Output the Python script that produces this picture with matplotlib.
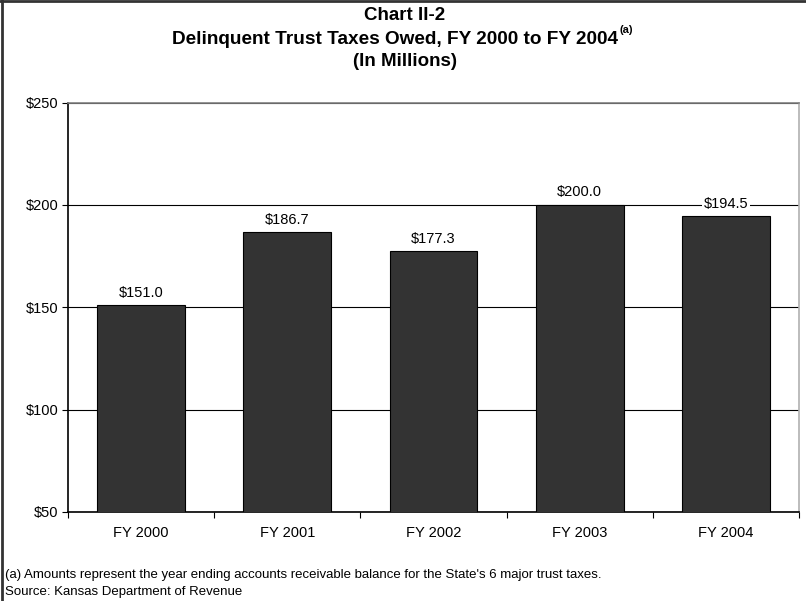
import matplotlib.pyplot as plt
import numpy as np
from matplotlib.lines import Line2D

plt.rcParams['font.family'] = ['Liberation Sans', 'DejaVu Sans']

# Delinquent trust taxes by fiscal year, in millions
years = ['FY 2000', 'FY 2001', 'FY 2002', 'FY 2003', 'FY 2004']
owed = [151.0, 186.7, 177.3, 200.0, 194.5]
y_ticks = [50, 100, 150, 200, 250]

fig = plt.figure(figsize=(8.06, 6.01), dpi=100)
ax = fig.add_axes([68 / 806, 89 / 601, 731 / 806, 409.5 / 601])

x = np.arange(len(years))
bars = ax.bar(x, owed, width=0.6, color='#333333', edgecolor='black',
              linewidth=0.8, zorder=3)

for b, v in zip(bars, owed):
    ax.annotate(f'${v:.1f}', (b.get_x() + b.get_width() / 2, v),
                xytext=(0, 4), textcoords='offset points', ha='center',
                va='bottom', fontsize=10.5, zorder=5,
                bbox=dict(boxstyle='square,pad=0.1', fc='white', ec='none'))

ax.set_xlim(-0.5, len(years) - 0.5)
ax.set_ylim(50, 250)
ax.set_yticks(y_ticks)
ax.set_yticklabels([f'${t}' for t in y_ticks], fontsize=10.5)
ax.yaxis.grid(True, color='black', linewidth=0.8, zorder=0)
ax.tick_params(axis='y', length=4, width=0.8, pad=3)

# category labels at centers, tick marks between categories
ax.set_xticks(x)
ax.set_xticklabels(years, fontsize=10.5)
ax.tick_params(axis='x', which='major', length=0, pad=10)
ax.set_xticks(np.arange(-0.5, len(years)), minor=True)
ax.tick_params(axis='x', which='minor', length=4, width=0.8)

ax.spines['left'].set_color('black')
ax.spines['bottom'].set_color('black')
ax.spines['top'].set_color('#808080')
ax.spines['right'].set_color('#b0b0b0')
for s in ax.spines.values():
    s.set_linewidth(1.2)

fig.text(0.502, 1 - 16 / 601, 'Chart II-2', ha='center', va='center',
         fontsize=13.5, fontweight='bold')
sub = fig.text(395 / 806, 1 - 39 / 601,
               'Delinquent Trust Taxes Owed, FY 2000 to FY 2004',
               ha='center', va='center', fontsize=13.7, fontweight='bold')
fig.text(0.502, 1 - 61 / 601, '(In Millions)', ha='center', va='center',
         fontsize=13.5, fontweight='bold')
# footnote marker right after the subtitle
ax.annotate('(a)', xy=(1, 0.75), xycoords=sub, xytext=(1, 0),
            textcoords='offset points', ha='left', va='bottom',
            fontsize=8, fontweight='bold', annotation_clip=False)

fig.text(5 / 806, 1 - 575 / 601,
         "(a) Amounts represent the year ending accounts receivable balance "
         "for the State's 6 major trust taxes.", ha='left', va='center',
         fontsize=9.5)
fig.text(5 / 806, 1 - 592 / 601, 'Source: Kansas Department of Revenue',
         ha='left', va='center', fontsize=9.5)

# outer frame (left and top edges)
fig.add_artist(Line2D([0.002, 0.002], [0, 1], color='#333333', linewidth=2,
                      transform=fig.transFigure))
fig.add_artist(Line2D([0, 1], [0.998, 0.998], color='#333333', linewidth=2,
                      transform=fig.transFigure))

fig.savefig('out.png', dpi=100)
